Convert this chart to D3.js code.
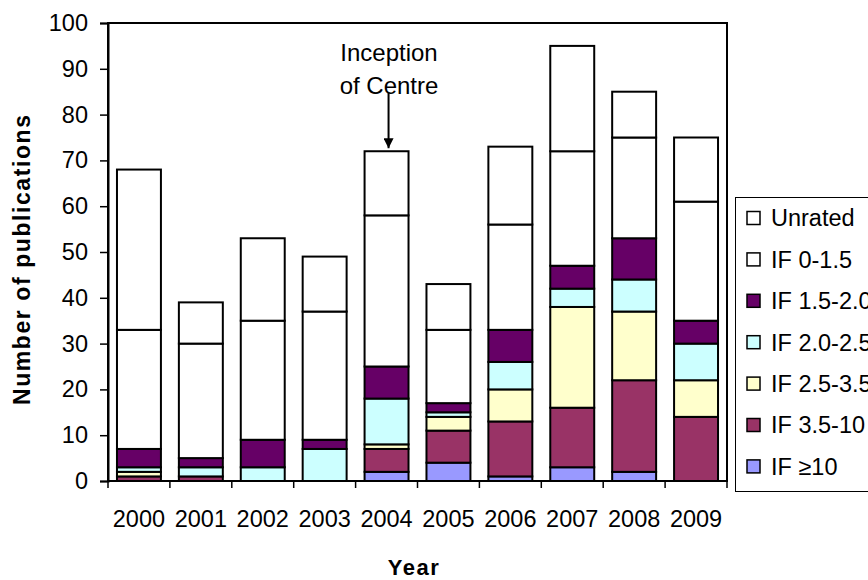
<!DOCTYPE html>
<html>
<head>
<meta charset="utf-8">
<script src="https://cdn.jsdelivr.net/npm/d3@7"></script>
<style>
  html, body { margin: 0; padding: 0; background: #fff; }
  svg { display: block; font-family: "Liberation Sans", Arial, sans-serif; }
</style>
</head>
<body>
<svg id="chart" width="868" height="580"></svg>
<script>
// ---- data ----
const years = ["2000","2001","2002","2003","2004","2005","2006","2007","2008","2009"];
const seriesNames = ["IF \u226510","IF 3.5-10","IF 2.5-3.5","IF 2.0-2.5","IF 1.5-2.0","IF 0-1.5","Unrated"];
const seriesColors = ["#9999FF","#993366","#FFFFCC","#CCFFFF","#660066","#FFFFFF","#FFFFFF"];
const ifGe10   = [0, 0, 0, 0, 2, 4, 1, 3, 2, 0];
const if35_10  = [1, 1, 0, 0, 5, 7, 12, 13, 20, 14];
const if25_35  = [1, 0, 0, 0, 1, 3, 7, 22, 15, 8];
const if20_25  = [1, 2, 3, 7, 10, 1, 6, 4, 7, 8];
const if15_20  = [4, 2, 6, 2, 7, 2, 7, 5, 9, 5];
const if0_15   = [26, 25, 26, 28, 33, 16, 23, 25, 22, 26];
const unrated  = [35, 9, 18, 12, 14, 10, 17, 23, 10, 14];
const yTicks = [0,10,20,30,40,50,60,70,80,90,100];
const annotationYear = "2004";
const annotationLines = ["Inception", "of Centre"];

const seriesValues = [ifGe10, if35_10, if25_35, if20_25, if15_20, if0_15, unrated];

// ---- layout ----
const svg = d3.select("#chart");
const plot = {left: 108, right: 727, top: 23, bottom: 481};

const x = d3.scaleBand().domain(years).range([plot.left, plot.right])
  .paddingInner(0.29).paddingOuter(0.145);
const y = d3.scaleLinear().domain([0, 100]).range([plot.bottom, plot.top]);

// build table for stack
const table = years.map((yr, i) => {
  const row = {year: yr};
  seriesNames.forEach((s, k) => row[s] = seriesValues[k][i]);
  return row;
});
const stack = d3.stack().keys(seriesNames)(table);

// plot frame
svg.append("rect")
  .attr("x", plot.left).attr("y", plot.top)
  .attr("width", plot.right - plot.left).attr("height", plot.bottom - plot.top)
  .attr("fill", "none").attr("stroke", "#000").attr("stroke-width", 2);

// bars
const g = svg.append("g");
stack.forEach((layer, k) => {
  g.selectAll(null)
    .data(layer.filter(d => d[1] - d[0] > 0))
    .enter().append("rect")
    .attr("x", d => x(d.data.year))
    .attr("width", x.bandwidth())
    .attr("y", d => y(d[1]))
    .attr("height", d => y(d[0]) - y(d[1]))
    .attr("fill", seriesColors[k])
    .attr("stroke", "#000")
    .attr("stroke-width", 2);
});

// y axis
const yAxis = d3.axisLeft(y).tickValues(yTicks).tickSize(8).tickPadding(12);
const ya = svg.append("g").attr("transform", `translate(${plot.left},0)`).call(yAxis);
ya.select(".domain").attr("stroke", "#000").attr("stroke-width", 2);
ya.selectAll(".tick line").attr("stroke", "#000").attr("stroke-width", 1.5);
ya.selectAll(".tick text").attr("font-size", 23.5).attr("fill", "#000")
  .attr("font-family", '"Liberation Sans", Arial, sans-serif');

// x axis: ticks at band boundaries
const xa = svg.append("g").attr("transform", `translate(0,${plot.bottom})`);
xa.append("line").attr("x1", plot.left).attr("x2", plot.right)
  .attr("stroke", "#000").attr("stroke-width", 2);
const step = x.step();
const bounds = years.map((yr, i) => plot.left + i * step).concat([plot.right]);
xa.selectAll(".xt").data(bounds).enter().append("line")
  .attr("x1", d => d).attr("x2", d => d).attr("y1", 0).attr("y2", 7)
  .attr("stroke", "#000").attr("stroke-width", 1.5);
xa.selectAll(".xl").data(years).enter().append("text")
  .attr("x", d => x(d) + x.bandwidth() / 2)
  .attr("y", 46)
  .attr("text-anchor", "middle")
  .attr("font-size", 23.5)
  .attr("fill", "#000")
  .text(d => d);

// axis titles
svg.append("text")
  .attr("x", 414).attr("y", 575)
  .attr("text-anchor", "middle")
  .attr("font-size", 22).attr("font-weight", "bold")
  .attr("letter-spacing", 1.5)
  .text("Year");

svg.append("text")
  .attr("transform", "translate(30,260) rotate(-90)")
  .attr("text-anchor", "middle")
  .attr("font-size", 23).attr("font-weight", "bold")
  .attr("textLength", 290).attr("lengthAdjust", "spacing")
  .text("Number of publications");

// annotation
const ai = years.indexOf(annotationYear);
const aTop = d3.sum(seriesValues, s => s[ai]);
const ax = x(annotationYear) + x.bandwidth() / 2 + 2;
svg.append("defs").append("marker")
  .attr("id", "arrow").attr("viewBox", "0 0 10 10")
  .attr("refX", 10).attr("refY", 5)
  .attr("markerWidth", 10).attr("markerHeight", 10)
  .attr("markerUnits", "userSpaceOnUse")
  .attr("orient", "auto")
  .append("path").attr("d", "M0,0 L10,5 L0,10 Z").attr("fill", "#000");
svg.append("line")
  .attr("x1", ax).attr("x2", ax)
  .attr("y1", 93).attr("y2", y(aTop) - 3)
  .attr("stroke", "#000").attr("stroke-width", 2)
  .attr("marker-end", "url(#arrow)");
annotationLines.forEach((t, i) => {
  svg.append("text")
    .attr("x", 389).attr("y", 61 + i * 33)
    .attr("text-anchor", "middle")
    .attr("font-size", 24)
    .attr("fill", "#000")
    .text(t);
});

// legend
const legendNames = seriesNames.slice().reverse();
const legendColors = seriesColors.slice().reverse();
svg.append("rect")
  .attr("x", 735.5).attr("y", 197.5).attr("width", 150).attr("height", 294)
  .attr("fill", "#fff").attr("stroke", "#000").attr("stroke-width", 1);
const lg = svg.append("g");
legendNames.forEach((n, i) => {
  const cy = 218 + i * 41.4;
  lg.append("rect")
    .attr("x", 747).attr("y", cy - 6.5).attr("width", 13).attr("height", 13)
    .attr("fill", legendColors[i]).attr("stroke", "#000").attr("stroke-width", 1.5);
  lg.append("text")
    .attr("x", 771).attr("y", cy).attr("dy", "0.36em")
    .attr("font-size", 23.5).attr("fill", "#000")
    .text(n);
});
</script>
</body>
</html>
